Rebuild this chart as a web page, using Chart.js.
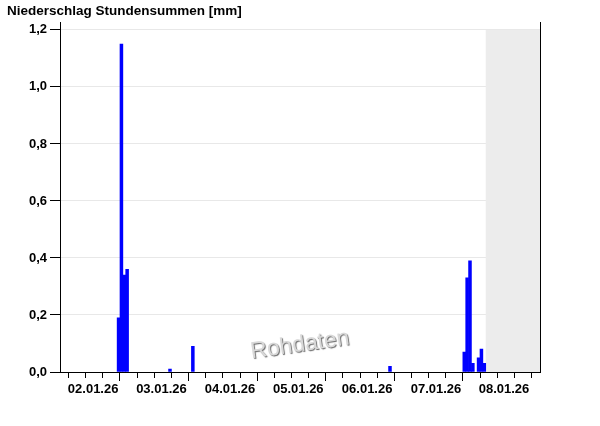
<!DOCTYPE html>
<html>
<head>
<meta charset="utf-8">
<script src="https://cdn.jsdelivr.net/npm/chart.js@4/dist/chart.umd.min.js"></script>
<style>
  html, body { margin: 0; padding: 0; background: #fff; }
  #wrap { width: 600px; height: 426px; position: relative; }
</style>
</head>
<body>
<div id="wrap"><canvas id="chart"></canvas></div>
<script>
// hourly precipitation, hours counted from 02.01.26 00:00
const hours = [20, 21, 22, 23, 38, 46, 115, 141, 142, 143, 144, 146, 147, 148];
const precip = [0.19, 1.15, 0.34, 0.36, 0.01, 0.09, 0.02, 0.07, 0.33, 0.39, 0.03, 0.05, 0.08, 0.03];

const dateLabels = ['02.01.26', '03.01.26', '04.01.26', '05.01.26', '06.01.26', '07.01.26', '08.01.26'];
const labelHours = [11.6, 35.5, 59.5, 83.4, 107.5, 131.6, 155.4];
const yTicks = [0, 0.2, 0.4, 0.6, 0.8, 1.0, 1.2];

const rangeHours = 168;
const nowHour = 149;   // grey area = no data yet
const yMax = 1.227;

const tickHours = [];
for (let h = 6; h < rangeHours; h += 6) tickHours.push(h);

const FONT = 'Arial, "Liberation Sans", sans-serif';

const backdrop = {
  id: 'backdrop',
  beforeDatasetsDraw(chart) {
    const { ctx, chartArea, scales: { x, y } } = chart;
    const left = x.getPixelForValue(nowHour);
    const top = y.getPixelForValue(yTicks[yTicks.length - 1]);
    ctx.save();
    ctx.fillStyle = '#ececec';
    ctx.fillRect(left, top, chartArea.right - left, chartArea.bottom - top);
    ctx.restore();
  },
  afterDatasetsDraw(chart) {
    const { ctx, chartArea } = chart;
    ctx.save();
    ctx.translate((chartArea.left + chartArea.right) / 2, chartArea.bottom - 27);
    ctx.rotate(-8 * Math.PI / 180);
    ctx.font = '23px ' + FONT;
    ctx.textAlign = 'center';
    ctx.textBaseline = 'middle';
    ctx.shadowColor = 'rgba(0,0,0,0.6)';
    ctx.shadowOffsetX = 1;
    ctx.shadowOffsetY = 1;
    ctx.shadowBlur = 1;
    ctx.fillStyle = '#d8d8d8';
    ctx.fillText('Rohdaten', 0, 0);
    ctx.restore();
  }
};

new Chart(document.getElementById('chart'), {
  type: 'bar',
  data: {
    datasets: [{
      label: 'Niederschlag',
      data: hours.map((h, i) => ({ x: h + 0.5, y: precip[i] })),
      backgroundColor: '#0000ff',
      borderWidth: 0,
      barPercentage: 1,
      categoryPercentage: 1
    }]
  },
  options: {
    responsive: true,
    maintainAspectRatio: false,
    animation: false,
    layout: { padding: { left: 7, right: 60, top: 0, bottom: 0 } },
    plugins: {
      legend: { display: false },
      tooltip: { enabled: false },
      title: {
        display: true,
        text: 'Niederschlag Stundensummen [mm]',
        align: 'start',
        color: '#000',
        font: { family: FONT, size: 13.5, weight: 'bold' },
        padding: { top: 3, bottom: 3 }
      }
    },
    scales: {
      x: {
        type: 'linear',
        position: 'bottom',
        weight: 0,
        min: 0,
        max: rangeHours,
        offset: false,
        afterBuildTicks: s => { s.ticks = tickHours.map(v => ({ value: v })); },
        ticks: { display: false },
        grid: {
          drawOnChartArea: false,
          tickLength: 9,
          tickColor: '#000',
          tickBorderDash: c => (c.tick && c.tick.value % 24 === 0) ? [] : [5, 20]
        },
        border: { color: '#000', width: 1 },
        afterFit: s => { s.height = 9; }
      },
      xl: {
        type: 'linear',
        position: 'bottom',
        weight: 1,
        min: 0,
        max: rangeHours,
        offset: false,
        afterBuildTicks: s => { s.ticks = labelHours.map(v => ({ value: v })); },
        ticks: {
          autoSkip: false,
          maxRotation: 0,
          padding: 1,
          color: '#000',
          font: { family: FONT, size: 13, weight: 'bold' },
          callback: (v, i) => dateLabels[i]
        },
        grid: { display: false, drawTicks: false },
        border: { display: false },
        afterFit: s => { s.height = 45; }
      },
      y: {
        type: 'linear',
        position: 'left',
        min: 0,
        max: yMax,
        afterBuildTicks: s => { s.ticks = yTicks.map(v => ({ value: v })); },
        ticks: {
          padding: 3,
          color: '#000',
          font: { family: FONT, size: 13, weight: 'bold' },
          callback: v => v.toFixed(1).replace('.', ',')
        },
        grid: {
          color: c => (c.tick && c.tick.value === 0) ? 'rgba(0,0,0,0)' : '#e8e8e8',
          tickColor: '#000',
          tickLength: 10
        },
        border: { color: '#000', width: 1 },
        afterFit: s => { s.width = 53; }
      },
      y2: {
        type: 'linear',
        position: 'right',
        min: 0,
        max: yMax,
        ticks: { display: false },
        grid: { drawOnChartArea: false, drawTicks: false },
        border: { color: '#000', width: 1 },
        afterFit: s => { s.width = 0; }
      }
    }
  },
  plugins: [backdrop]
});
</script>
</body>
</html>
